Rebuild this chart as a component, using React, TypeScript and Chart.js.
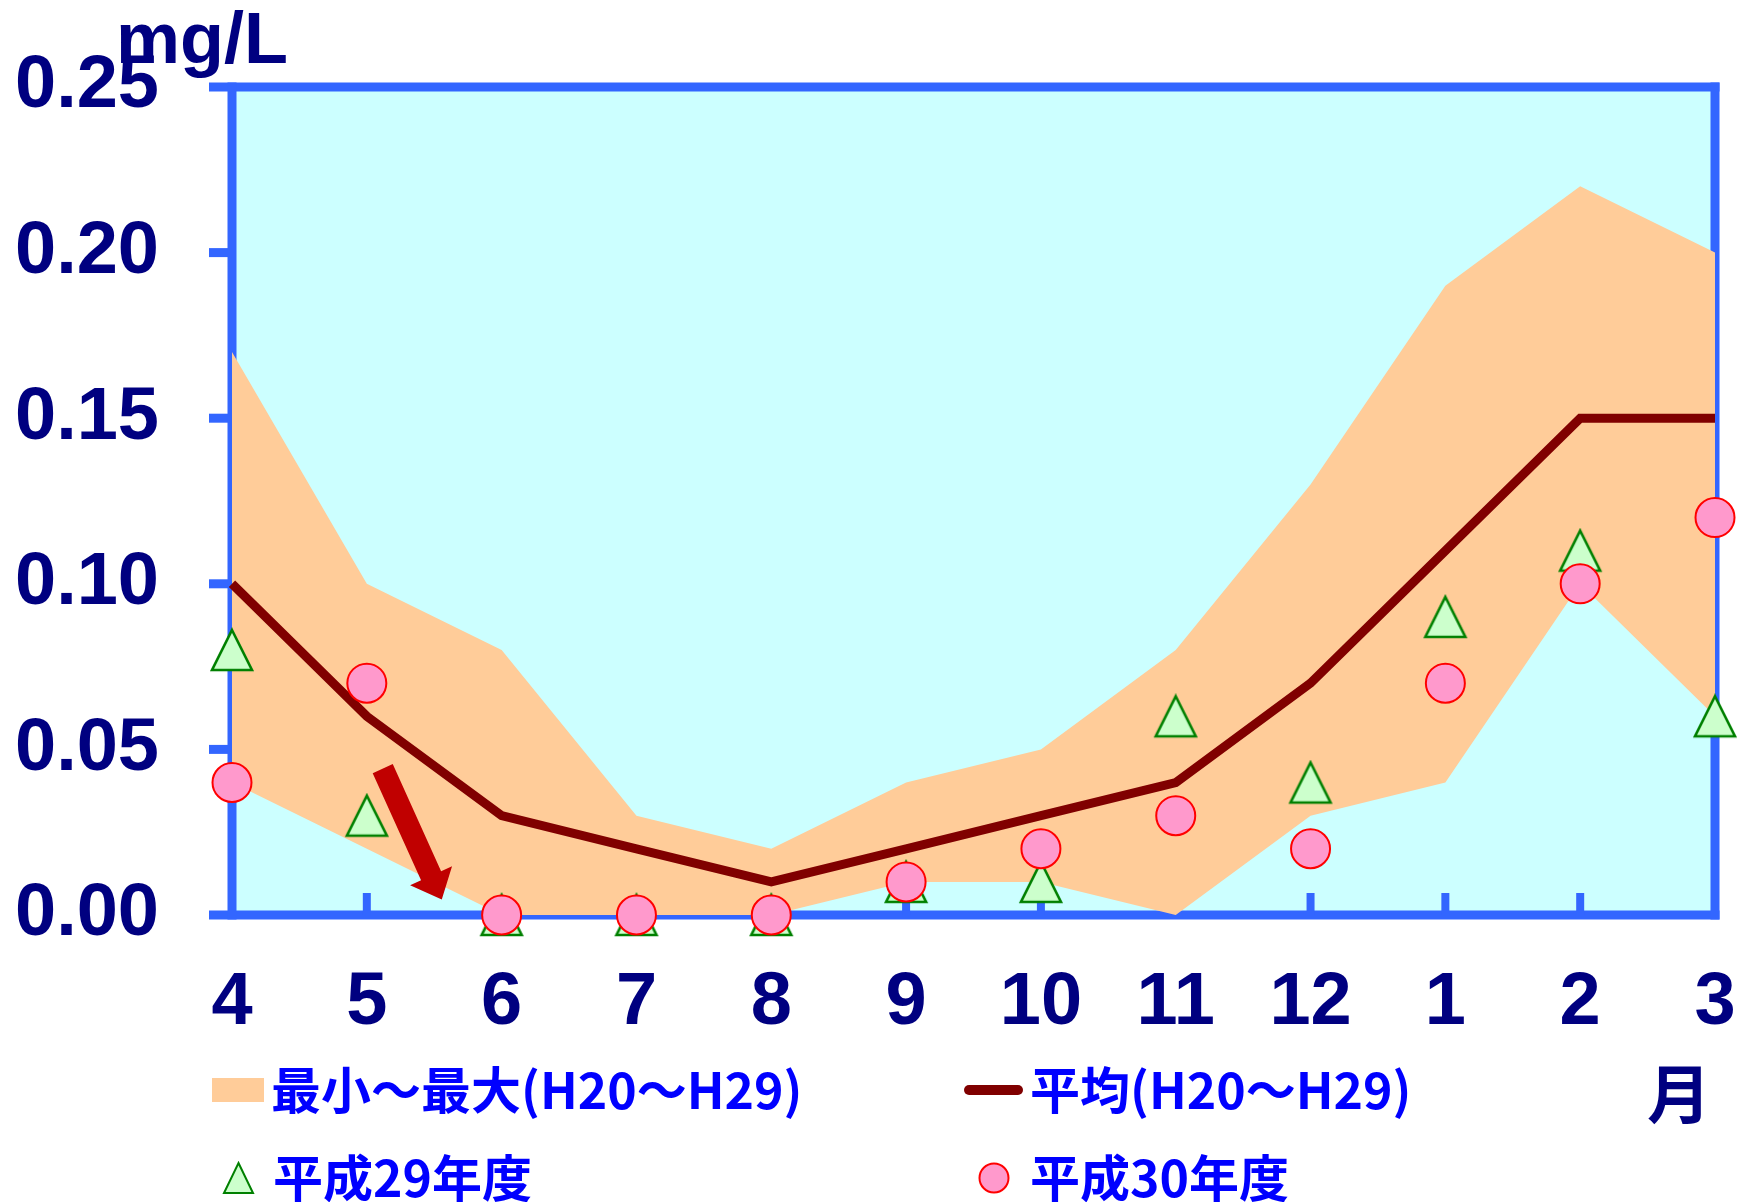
import React, { useEffect, useRef } from 'react';
import { Chart, registerables } from 'chart.js';

Chart.register(...registerables);

// ---------------- data ----------------
const months = ['4', '5', '6', '7', '8', '9', '10', '11', '12', '1', '2', '3'];
const rangeMax = [0.17, 0.10, 0.08, 0.03, 0.02, 0.04, 0.05, 0.08, 0.13, 0.19, 0.22, 0.20];
const rangeMin = [0.04, 0.02, 0.00, 0.00, 0.00, 0.01, 0.01, 0.00, 0.03, 0.04, 0.10, 0.06];
const average = [0.10, 0.06, 0.03, 0.02, 0.01, 0.02, 0.03, 0.04, 0.07, 0.11, 0.15, 0.15];
const fy29 = [0.08, 0.03, 0.00, 0.00, 0.00, 0.01, 0.01, 0.06, 0.04, 0.09, 0.11, 0.06];
const fy30 = [0.04, 0.07, 0.00, 0.00, 0.00, 0.01, 0.02, 0.03, 0.02, 0.07, 0.10, 0.12];
const yTicks = [0, 0.05, 0.10, 0.15, 0.20, 0.25];
const labelRange = '最小～最大(H20～H29)';
const labelAverage = '平均(H20～H29)';
const labelFy29 = '平成29年度';
const labelFy30 = '平成30年度';
const unitLabel = 'mg/L';
const xUnitLabel = '月';
// arrow annotation in data units (category index, value)
const arrowFrom = { x: 1.118, y: 0.0442 };
const arrowTo = { x: 1.556, y: 0.0047 };

// ---------------- styles ----------------
const AXIS_BLUE = '#3366FF';
const NAVY = '#000080';
const LEGEND_BLUE = '#0000FF';
const BAND = '#FFCC99';
const PLOT_BG = '#CCFFFF';
const MEAN = '#800000';
const TRI_FILL = '#CCFFCC';
const TRI_STROKE = '#008000';
const CIR_FILL = '#FF99CC';
const CIR_STROKE = '#FF0000';
const ARROW = '#C00000';
const NUM_FONT = "'Liberation Sans', Arial, sans-serif";
const CJK_FONT = "'Noto Sans CJK JP', 'Noto Sans CJK SC', sans-serif";

function makeTriangle(w: number, h: number, lw: number): HTMLCanvasElement {
  const c = document.createElement('canvas');
  const pad = Math.ceil(lw);
  c.width = Math.round(w + pad * 2);
  c.height = Math.round(h + pad * 2);
  const ctx = c.getContext('2d')!;
  ctx.beginPath();
  ctx.moveTo(c.width / 2, pad);
  ctx.lineTo(pad + w, pad + h);
  ctx.lineTo(pad, pad + h);
  ctx.closePath();
  ctx.fillStyle = TRI_FILL;
  ctx.fill();
  ctx.lineWidth = lw;
  ctx.strokeStyle = TRI_STROKE;
  ctx.lineJoin = 'miter';
  ctx.stroke();
  return c;
}

const framePlugin = {
  id: 'frame',
  beforeDraw(chart: any) {
    const { ctx, chartArea: a } = chart;
    ctx.save();
    ctx.fillStyle = '#FFFFFF';
    ctx.fillRect(0, 0, chart.width, chart.height);
    ctx.fillStyle = PLOT_BG;
    ctx.fillRect(a.left, a.top, a.right - a.left, a.bottom - a.top);
    ctx.restore();
  },
  beforeDatasetsDraw(chart: any) {
    const { ctx, chartArea: a, scales } = chart;
    const x = scales.x;
    const y = scales.y;
    const lw = 9;
    const tickOut = 23;
    ctx.save();
    ctx.strokeStyle = AXIS_BLUE;
    ctx.lineWidth = lw;
    ctx.lineCap = 'butt';
    // y ticks (outward) incl. top/bottom
    yTicks.forEach((v) => {
      const py = y.getPixelForValue(v);
      ctx.beginPath();
      ctx.moveTo(a.left - tickOut, py);
      ctx.lineTo(v === 0 || v === yTicks[yTicks.length - 1] ? a.right + lw / 2 : a.left, py);
      ctx.stroke();
    });
    // left & right border
    ctx.beginPath();
    ctx.moveTo(a.left, a.top - lw / 2);
    ctx.lineTo(a.left, a.bottom + lw / 2);
    ctx.moveTo(a.right, a.top - lw / 2);
    ctx.lineTo(a.right, a.bottom + lw / 2);
    ctx.stroke();
    // x ticks (inward)
    ctx.lineWidth = 8;
    months.forEach((_, i) => {
      const px = x.getPixelForValue(i);
      ctx.beginPath();
      ctx.moveTo(px, a.bottom);
      ctx.lineTo(px, a.bottom - 22);
      ctx.stroke();
    });
    ctx.restore();
  },
  afterDatasetsDraw(chart: any) {
    const { ctx, scales } = chart;
    const x = scales.x;
    const y = scales.y;
    const x0 = x.getPixelForValue(arrowFrom.x);
    const y0 = y.getPixelForValue(arrowFrom.y);
    const x1 = x.getPixelForValue(arrowTo.x);
    const y1 = y.getPixelForValue(arrowTo.y);
    const dx = x1 - x0;
    const dy = y1 - y0;
    const len = Math.hypot(dx, dy);
    const ux = dx / len;
    const uy = dy / len;
    const nx = -uy;
    const ny = ux;
    const shaftW = 22;
    const headW = 46;
    const headL = 26;
    const bx = x1 - ux * headL;
    const by = y1 - uy * headL;
    ctx.save();
    ctx.fillStyle = ARROW;
    ctx.beginPath();
    ctx.moveTo(x0 + nx * shaftW / 2, y0 + ny * shaftW / 2);
    ctx.lineTo(bx + nx * shaftW / 2, by + ny * shaftW / 2);
    ctx.lineTo(bx + nx * headW / 2, by + ny * headW / 2);
    ctx.lineTo(x1, y1);
    ctx.lineTo(bx - nx * headW / 2, by - ny * headW / 2);
    ctx.lineTo(bx - nx * shaftW / 2, by - ny * shaftW / 2);
    ctx.lineTo(x0 - nx * shaftW / 2, y0 - ny * shaftW / 2);
    ctx.closePath();
    ctx.fill();
    ctx.restore();
  },
  afterDraw(chart: any) {
    const { ctx } = chart;
    ctx.save();
    // unit label
    ctx.fillStyle = NAVY;
    ctx.font = `bold 72px ${NUM_FONT}`;
    ctx.textBaseline = 'alphabetic';
    ctx.textAlign = 'left';
    ctx.fillText(unitLabel, 116, 63);
    // x unit
    ctx.font = `bold 64px ${CJK_FONT}`;
    ctx.textBaseline = 'middle';
    ctx.textAlign = 'center';
    ctx.fillText(xUnitLabel, 1679, 1094);

    // legend
    ctx.textAlign = 'left';
    ctx.textBaseline = 'middle';
    ctx.font = `bold 50px ${CJK_FONT}`;
    const row1 = 1090;
    const row2 = 1178;
    // band swatch
    ctx.fillStyle = BAND;
    ctx.fillRect(212, row1 - 12, 52, 24);
    ctx.fillStyle = LEGEND_BLUE;
    ctx.fillText(labelRange, 271, row1);
    // mean line
    ctx.strokeStyle = MEAN;
    ctx.lineWidth = 10;
    ctx.lineCap = 'round';
    ctx.beginPath();
    ctx.moveTo(969, row1);
    ctx.lineTo(1018, row1);
    ctx.stroke();
    ctx.fillText(labelAverage, 1030, row1);
    // triangle
    ctx.beginPath();
    ctx.moveTo(238.5, row2 - 15);
    ctx.lineTo(253, row2 + 15);
    ctx.lineTo(224, row2 + 15);
    ctx.closePath();
    ctx.fillStyle = TRI_FILL;
    ctx.fill();
    ctx.lineWidth = 2;
    ctx.lineCap = 'butt';
    ctx.strokeStyle = TRI_STROKE;
    ctx.stroke();
    ctx.fillStyle = LEGEND_BLUE;
    ctx.fillText(labelFy29, 273, row2);
    // circle
    ctx.beginPath();
    ctx.arc(994, row2, 14.5, 0, Math.PI * 2);
    ctx.fillStyle = CIR_FILL;
    ctx.fill();
    ctx.strokeStyle = CIR_STROKE;
    ctx.lineWidth = 2;
    ctx.stroke();
    ctx.fillStyle = LEGEND_BLUE;
    ctx.fillText(labelFy30, 1030, row2);
    ctx.restore();
  },
};

export default function App() {
  const ref = useRef<HTMLCanvasElement | null>(null);

  useEffect(() => {
    if (!ref.current) return;
    const tri = makeTriangle(40, 40, 2.6);
    const numFont = { family: NUM_FONT, size: 74, weight: 'bold' as const, lineHeight: 1.2 };
    const chart = new Chart(ref.current, {
      type: 'line',
      data: {
        labels: months,
        datasets: [
          {
            label: labelFy30,
            data: fy30,
            showLine: false,
            pointStyle: 'circle',
            pointRadius: 19.5,
            pointBackgroundColor: CIR_FILL,
            pointBorderColor: CIR_STROKE,
            pointBorderWidth: 2,
            borderColor: CIR_STROKE,
            backgroundColor: CIR_FILL,
            clip: false,
          },
          {
            label: labelFy29,
            data: fy29,
            showLine: false,
            pointStyle: tri,
            pointRadius: 20,
            borderColor: TRI_STROKE,
            backgroundColor: TRI_FILL,
            clip: false,
          },
          {
            label: labelAverage,
            data: average,
            borderColor: MEAN,
            borderWidth: 9,
            pointRadius: 0,
            fill: false,
            tension: 0,
            clip: false,
          },
          {
            label: labelRange,
            data: rangeMax,
            borderColor: 'rgba(0,0,0,0)',
            borderWidth: 0,
            pointRadius: 0,
            backgroundColor: BAND,
            fill: '+1',
            tension: 0,
          },
          {
            label: 'min',
            data: rangeMin,
            borderColor: 'rgba(0,0,0,0)',
            borderWidth: 0,
            pointRadius: 0,
            fill: false,
            tension: 0,
          },
        ],
      },
      options: {
        animation: false,
        responsive: false,
        devicePixelRatio: 1,
        events: [],
        layout: { padding: { left: 15, top: 87, right: 32, bottom: 0 } },
        plugins: {
          legend: { display: false },
          tooltip: { enabled: false },
          title: { display: false },
        },
        scales: {
          x: {
            type: 'category',
            offset: false,
            grid: { display: false, drawTicks: false },
            border: { display: false },
            ticks: {
              color: NAVY,
              font: numFont,
              padding: 44,
              autoSkip: false,
              maxRotation: 0,
              minRotation: 0,
            },
            afterFit: (s: any) => {
              s.height = 287;
              s.paddingLeft = 0;
              s.paddingRight = 0;
            },
          },
          y: {
            min: 0,
            max: 0.25,
            grid: { display: false, drawTicks: false },
            border: { display: false },
            ticks: {
              color: NAVY,
              font: numFont,
              crossAlign: 'far',
              padding: 0,
              callback: (v: any) => Number(v).toFixed(2),
            },
            afterBuildTicks: (s: any) => {
              s.ticks = yTicks.map((v) => ({ value: v }));
            },
            afterFit: (s: any) => {
              s.width = 217;
              s.paddingTop = 0;
              s.paddingBottom = 0;
            },
          },
        },
      },
      plugins: [framePlugin],
    });
    return () => chart.destroy();
  }, []);

  return (
    <div style={{ position: 'absolute', left: 0, top: 0, width: 1747, height: 1202, background: '#fff' }}>
      <canvas ref={ref} width={1747} height={1202} style={{ width: 1747, height: 1202, display: 'block' }} />
    </div>
  );
}
